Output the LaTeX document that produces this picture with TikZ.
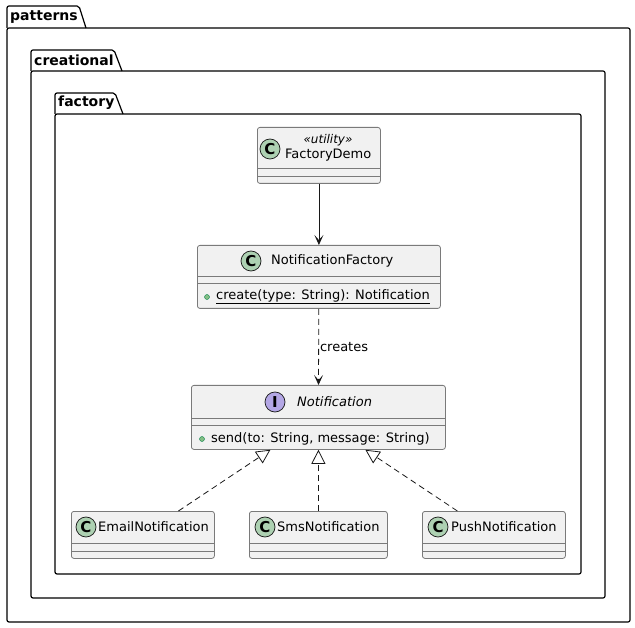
\documentclass[tikz,border=0pt]{standalone}
\usepackage{fontspec}
\setmainfont{DejaVu Sans}
\usetikzlibrary{arrows.meta,positioning}
\definecolor{boxfill}{HTML}{F1F1F1}
\definecolor{boxline}{HTML}{181818}
\definecolor{boxedge}{HTML}{7A7A7A}
\definecolor{classicon}{HTML}{ADD1B2}
\definecolor{ifaceicon}{HTML}{B4A7E5}
\definecolor{pubdot}{HTML}{84BE84}
\definecolor{publine}{HTML}{038048}
\begin{document}
\begin{tikzpicture}[
  x=1pt, y=-1pt,
  package/.style={draw=black, line width=1.2pt, rounded corners=2pt},
  pkgname/.style={anchor=west, inner sep=0pt, font=\bfseries\fontsize{14}{14}\selectfont},
  classbox/.style={draw=boxedge, line width=0.8pt, fill=boxfill, rounded corners=2.5pt, anchor=north west, inner sep=0pt},
  sepline/.style={draw=boxedge, line width=0.8pt},
  cicon/.style={circle, draw=boxline, line width=0.7pt, fill=classicon, minimum size=20pt, inner sep=0pt, font=\bfseries\fontsize{15}{15}\selectfont},
  iicon/.style={cicon, fill=ifaceicon},
  cname/.style={anchor=west, inner sep=0pt, font=\fontsize{13}{13}\selectfont},
  member/.style={anchor=west, inner sep=0pt, font=\fontsize{13}{13}\selectfont},
  pubdot/.style={circle, draw=publine, line width=0.4pt, fill=pubdot, minimum size=5pt, inner sep=0pt},
  assoc/.style={draw=boxline, line width=0.8pt, -{Stealth[length=10pt, width=9pt, inset=5pt]}},
  depend/.style={assoc, dash pattern=on 6pt off 4pt},
  realize/.style={draw=boxline, line width=0.8pt, dash pattern=on 6pt off 4pt, -{Triangle[open, fill=white, length=14pt, width=14pt]}}
]
\useasboundingbox (0,0) rectangle (635,628);

% Packages
\draw[package] (7,28) -- (7,6) -- (79,6) -- (86,28);
\draw[package] (7,28) rectangle (630,622);
\node[pkgname] (pkg_patterns) at (10,17) {patterns};

\draw[package] (31,71) -- (31,50) -- (114,50) -- (122,71);
\draw[package] (31,71) rectangle (605,598);
\node[pkgname] (pkg_creational) at (34,60) {creational};

\draw[package] (55,114) -- (55,93) -- (115,93) -- (123,114);
\draw[package] (55,114) rectangle (581,574);
\node[pkgname] (pkg_factory) at (58,103) {factory};

% FactoryDemo
\node[classbox, minimum width=123pt, minimum height=56pt] (demo) at (257,127) {};
\draw[sepline] (257,168) -- (380,168);
\draw[sepline] (257,176) -- (380,176);
\node[cicon] (demo_icon) at (270,149) {C};
\node[anchor=center, inner sep=0pt, font=\itshape\fontsize{12}{12}\selectfont] (demo_stereo) at (328,140) {«utility»};
\node[cname] (demo_name) at (285,155) {FactoryDemo};

% NotificationFactory
\node[classbox, minimum width=243pt, minimum height=63pt] (factory) at (197,245) {};
\draw[sepline] (197,276) -- (440,276);
\draw[sepline] (197,283) -- (440,283);
\node[cicon] (factory_icon) at (251,261) {C};
\node[cname] (factory_name) at (271,261) {NotificationFactory};
\node[pubdot] (factory_dot) at (207,297) {};
\node[member] (factory_create) at (216,297) {\underline{create(type: String): Notification}};

% Notification
\node[classbox, minimum width=254pt, minimum height=64pt] (notif) at (191,385) {};
\draw[sepline] (191,418) -- (445,418);
\draw[sepline] (191,425) -- (445,425);
\node[iicon] (notif_icon) at (275,402) {I};
\node[cname, font=\itshape\fontsize{13}{13}\selectfont] (notif_name) at (297,402) {Notification};
\node[pubdot] (notif_dot) at (202,439) {};
\node[member] (notif_send) at (211,439) {send(to: String, message: String)};

% Implementations
\node[classbox, minimum width=143pt, minimum height=47pt] (email) at (71,511) {};
\draw[sepline] (71,543) -- (214,543);
\draw[sepline] (71,551) -- (214,551);
\node[cicon] (email_icon) at (86,527) {C};
\node[cname] (email_name) at (98,527) {EmailNotification};

\node[classbox, minimum width=138pt, minimum height=47pt] (sms) at (249,511) {};
\draw[sepline] (249,543) -- (387,543);
\draw[sepline] (249,551) -- (387,551);
\node[cicon] (sms_icon) at (265,527) {C};
\node[cname] (sms_name) at (277,527) {SmsNotification};

\node[classbox, minimum width=143pt, minimum height=47pt] (push) at (422,511) {};
\draw[sepline] (422,543) -- (565,543);
\draw[sepline] (422,551) -- (565,551);
\node[cicon] (push_icon) at (438,527) {C};
\node[cname] (push_name) at (451,527) {PushNotification};

% Relations
\draw[assoc] (demo) -- (factory);
\draw[depend] (factory) -- (notif) node[midway, right, inner sep=1pt, font=\fontsize{13}{13}\selectfont] {creates};
\draw[realize] ([xshift=35.5pt]email.north) -- ([xshift=-48pt]notif.south);
\draw[realize] (sms) -- (notif);
\draw[realize] ([xshift=-36.5pt]push.north) -- ([xshift=47pt]notif.south);

\end{tikzpicture}
\end{document}
